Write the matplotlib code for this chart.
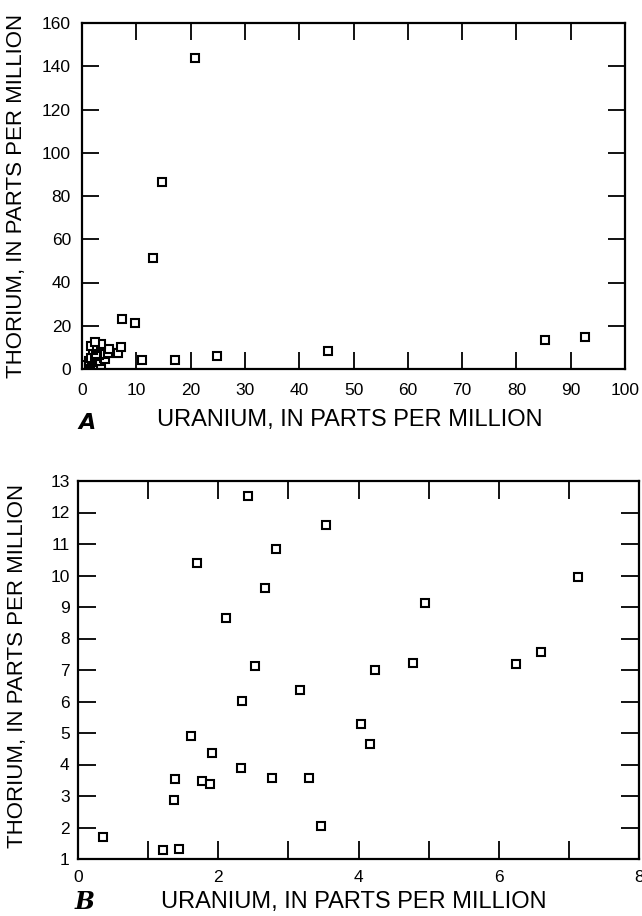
import matplotlib
matplotlib.use("Agg")
import matplotlib.pyplot as plt
import numpy as np

plt.rcParams['font.family'] = ['Liberation Sans', 'DejaVu Sans']

# ------------------------------------------------------------
# data
# ------------------------------------------------------------
# panel B: low-concentration samples
b_uranium = [0.35, 1.21, 1.44, 3.47, 1.37, 1.38, 1.77, 1.88, 2.33, 2.77,
             3.30, 1.91, 1.61, 4.04, 4.16, 2.34, 3.17, 2.53, 4.24, 4.78,
             6.24, 6.60, 2.11, 4.95, 2.67, 7.13, 1.69, 2.82, 3.54, 2.42]
b_thorium = [1.69, 1.30, 1.33, 2.06, 2.86, 3.55, 3.48, 3.37, 3.88, 3.56,
             3.58, 4.36, 4.89, 5.28, 4.65, 6.02, 6.35, 7.14, 6.99, 7.22,
             7.18, 7.56, 8.64, 9.13, 9.59, 9.95, 10.41, 10.83, 11.61, 12.51]

# panel A: remaining samples outside the range of panel B
a_extra_uranium = [20.8, 14.8, 13.1, 7.4, 9.8, 11.1, 17.1, 24.8, 45.3, 85.3, 92.7]
a_extra_thorium = [144.0, 86.6, 51.5, 23.0, 21.2, 4.0, 4.0, 5.8, 8.5, 13.5, 14.6]

a_uranium = b_uranium + a_extra_uranium
a_thorium = b_thorium + a_extra_thorium

xlabel = 'URANIUM, IN PARTS PER MILLION'
ylabel = 'THORIUM, IN PARTS PER MILLION'

# ------------------------------------------------------------
# figure
# ------------------------------------------------------------
W, H = 642, 916
fig = plt.figure(figsize=(W / 100, H / 100), dpi=100)

def px_axes(left, right, top, bottom):
    return fig.add_axes([left / W, 1 - bottom / H, (right - left) / W, (bottom - top) / H])

ax_a = px_axes(82, 625, 23, 369)
ax_b = px_axes(78, 639, 481, 859)

marker_kw = dict(marker='s', linestyle='none', markersize=6,
                 markerfacecolor='white', markeredgecolor='black',
                 markeredgewidth=1.5)

# --- panel A ---
ax_a.plot(a_uranium, a_thorium, **marker_kw)
ax_a.set_xlim(0, 100)
ax_a.set_ylim(0, 160)
ax_a.set_xticks(np.arange(0, 101, 10))
ax_a.set_yticks(np.arange(0, 161, 20))
ax_a.tick_params(direction='in', length=12, width=1.3, labelsize=12.5,
                 top=True, right=True)
ax_a.tick_params(axis='x', pad=10)
ax_a.tick_params(axis='y', pad=8)

# --- panel B ---
ax_b.plot(b_uranium, b_thorium, **marker_kw)
ax_b.set_xlim(0, 8)
ax_b.set_ylim(1, 13)
ax_b.set_xticks(np.arange(0, 9, 1))
ax_b.set_xticklabels([str(v) if v % 2 == 0 else '' for v in range(0, 9)])
ax_b.set_yticks(np.arange(1, 14, 1))
ax_b.tick_params(direction='in', length=13, width=1.3, labelsize=12.5,
                 top=True, right=True)
ax_b.tick_params(axis='x', pad=8)
ax_b.tick_params(axis='y', pad=6)

for ax in (ax_a, ax_b):
    for s in ax.spines.values():
        s.set_linewidth(1.6)

ax_a.set_xlabel(xlabel, fontsize=17, va='center')
ax_a.xaxis.set_label_coords(0.494, -0.147)
ax_a.set_ylabel(ylabel, fontsize=16, va='center')
ax_a.yaxis.set_label_coords(-0.12, 0.5)

ax_b.set_xlabel(xlabel, fontsize=17, va='center')
ax_b.xaxis.set_label_coords(0.492, -0.114)
ax_b.set_ylabel(ylabel, fontsize=16, va='center')
ax_b.yaxis.set_label_coords(-0.107, 0.51)

fig.text(87 / W, 1 - 423 / H, 'A', fontsize=16, fontweight='bold', fontstyle='italic',
         family='DejaVu Sans', ha='center', va='center')
fig.text(85 / W, 1 - 902 / H, 'B', fontsize=17, fontweight='bold', fontstyle='italic',
         family='DejaVu Serif', ha='center', va='center')

fig.savefig('out.png', dpi=100)
